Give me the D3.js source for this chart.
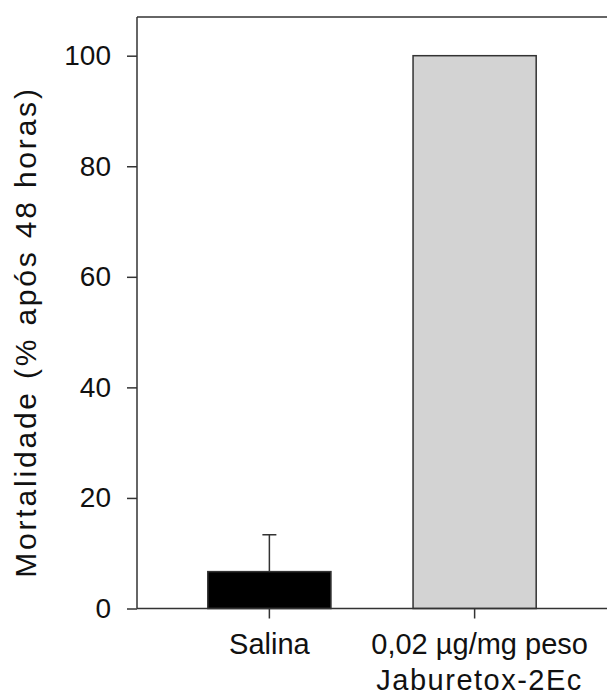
<!DOCTYPE html>
<html>
<head>
<meta charset="utf-8">
<script src="https://cdn.jsdelivr.net/npm/d3@7"></script>
<style>
  body { margin: 0; background: #fff; }
  text { font-family: Arial, "Liberation Sans", sans-serif; fill: #111; }
</style>
</head>
<body>
<div id="chart"></div>
<script>
// data
var groups = ['Salina', 'Jaburetox'];
var labelLines = [['Salina'], ['0,02 \u00b5g/mg peso', 'Jaburetox-2Ec']];
var mortality = [6.67, 100];
var errUp = [6.67, 0];
var barFill = ['#000000', '#d3d3d3'];
var yTicks = [0, 20, 40, 60, 80, 100];

var width = 607, height = 698;
var plotL = 137, plotR = 607, plotT = 17, plotB = 608.5;

var svg = d3.select('#chart').append('svg')
  .attr('width', width)
  .attr('height', height);

var x = d3.scaleBand().domain(groups).range([plotL, plotR])
  .paddingInner(0.4).paddingOuter(0.345);
var y = d3.scaleLinear().domain([0, 107]).range([plotB, plotT]);

// bars
svg.selectAll('rect.bar')
  .data(groups)
  .join('rect')
  .attr('class', 'bar')
  .attr('x', d => x(d))
  .attr('y', (d, i) => y(mortality[i]))
  .attr('width', x.bandwidth())
  .attr('height', (d, i) => y(0) - y(mortality[i]))
  .attr('fill', (d, i) => barFill[i])
  .attr('stroke', '#333')
  .attr('stroke-width', 1.5);

// upper error bars only
var eb = svg.selectAll('g.err')
  .data(groups.filter((d, i) => errUp[i] > 0))
  .join('g')
  .attr('class', 'err');
eb.append('line')
  .attr('x1', d => x(d) + x.bandwidth() / 2)
  .attr('x2', d => x(d) + x.bandwidth() / 2)
  .attr('y1', d => y(mortality[groups.indexOf(d)]))
  .attr('y2', d => { var i = groups.indexOf(d); return y(mortality[i] + errUp[i]); })
  .attr('stroke', '#333').attr('stroke-width', 1.5);
eb.append('line')
  .attr('x1', d => x(d) + x.bandwidth() / 2 - 7)
  .attr('x2', d => x(d) + x.bandwidth() / 2 + 7)
  .attr('y1', d => { var i = groups.indexOf(d); return y(mortality[i] + errUp[i]); })
  .attr('y2', d => { var i = groups.indexOf(d); return y(mortality[i] + errUp[i]); })
  .attr('stroke', '#333').attr('stroke-width', 1.5);

// y axis
var yAxis = svg.append('g')
  .attr('transform', 'translate(' + plotL + ',0)')
  .call(d3.axisLeft(y).tickValues(yTicks).tickSize(10).tickPadding(16).tickSizeOuter(0));
yAxis.select('.domain').remove();
yAxis.append('line')
  .attr('x1', 0).attr('x2', 0).attr('y1', plotT).attr('y2', plotB)
  .attr('stroke', '#333').attr('stroke-width', 1.5);
yAxis.selectAll('.tick line').attr('stroke', '#333').attr('stroke-width', 1.5);
yAxis.selectAll('.tick text')
  .style('font-size', '28px')
  .style('font-family', 'Arial, "Liberation Sans", sans-serif')
  .attr('fill', '#111');

// x axis
var xAxis = svg.append('g')
  .attr('transform', 'translate(0,' + plotB + ')')
  .call(d3.axisBottom(x).tickSize(10).tickSizeOuter(0).tickFormat(''));
xAxis.select('.domain').remove();
xAxis.append('line')
  .attr('x1', plotL).attr('x2', plotR).attr('y1', 0).attr('y2', 0)
  .attr('stroke', '#333').attr('stroke-width', 1.5);
xAxis.selectAll('.tick line').attr('stroke', '#333').attr('stroke-width', 1.5);

// top frame line
svg.append('line')
  .attr('x1', plotL).attr('x2', plotR).attr('y1', plotT).attr('y2', plotT)
  .attr('stroke', '#333').attr('stroke-width', 1.5);

// category labels
svg.selectAll('text.cat')
  .data(groups)
  .join('text')
  .attr('class', 'cat')
  .attr('text-anchor', 'middle')
  .attr('x', d => x(d) + x.bandwidth() / 2)
  .attr('y', 654)
  .style('font-size', '29px')
  .each(function (d, i) {
    var t = d3.select(this);
    var cx = x(d) + x.bandwidth() / 2 + (i === 1 ? 5 : 0);
    labelLines[i].forEach(function (line, j) {
      t.append('tspan')
        .attr('x', cx)
        .attr('dy', j === 0 ? 0 : 36)
        .style('letter-spacing', j === 1 ? '1.5px' : null)
        .text(line);
    });
  });

// y axis title
svg.append('text')
  .attr('transform', 'translate(36,332) rotate(-90)')
  .attr('text-anchor', 'middle')
  .style('font-size', '30px')
  .style('letter-spacing', '2.8px')
  .text('Mortalidade (% após 48 horas)');
</script>
</body>
</html>
